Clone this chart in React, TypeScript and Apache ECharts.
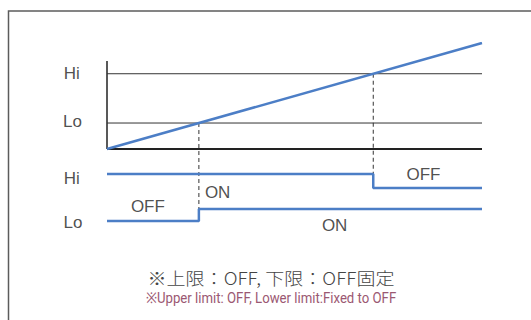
import React, { useEffect, useRef } from "react";
import * as echarts from "echarts";

// ---- data ----
const inputLine: number[][] = [[0, 0], [100, 100]];
const loThreshold = 24.5;
const hiThreshold = 71;
const yAxisTop = 83;
// output step levels (lower panel, same value scale)
const hiOutput: number[][] = [[0, -23.6], [hiThreshold, -36.8], [100, -36.8]];
const loOutput: number[][] = [[0, -67.9], [loThreshold, -56.6], [100, -56.6]];
const hiDropEnd = -23.6;
const loRiseEnd = -56.6;
const stateLabels = [
  { name: "ON", value: [29.5, -40.6] },
  { name: "OFF", value: [10.9, -54.7] },
  { name: "OFF", value: [84.4, -24.5] },
  { name: "ON", value: [60.7, -72.6] },
];
const rowLabels = [
  { name: "Hi", value: [-9.4, 70.8] },
  { name: "Lo", value: [-9.2, 25.5] },
  { name: "Hi", value: [-9.4, -27.4] },
  { name: "Lo", value: [-9.1, -68.9] },
];
const noteJa = "※上限：OFF, 下限：OFF固定";
const noteEn = "※Upper limit: OFF, Lower limit:Fixed to OFF";

const BLUE = "#4c7ec6";
const DARK = "#222";

export default function App() {
  const ref = useRef<HTMLDivElement>(null);
  useEffect(() => {
    document.body.style.margin = "0";
    if (!ref.current) return;
    const chart = echarts.init(ref.current, undefined, { renderer: "svg" });
    const yMin = -80;
    const pxPerUnit = 1.06;
    const plain = (data: number[][], color: string, width: number, type: any = "solid", z = 2) => ({
      type: "line",
      data,
      symbol: "none",
      silent: true,
      z,
      lineStyle: { color, width, type },
    });
    chart.setOption({
      animation: false,
      grid: { left: 107, top: 43, width: 375, height: (100 - yMin) * pxPerUnit },
      xAxis: { type: "value", min: 0, max: 100, show: false },
      yAxis: { type: "value", min: yMin, max: 100, show: false },
      graphic: [
        {
          type: "rect",
          shape: { x: 8.5, y: 11, width: 700, height: 500 },
          style: { fill: "none", stroke: "#5c5c5c", lineWidth: 1.5 },
        },
        {
          type: "text",
          x: 271,
          y: 277,
          scaleX: 1.12,
          style: {
            text: noteJa,
            fill: "#444",
            font: 'normal 300 17px "Noto Sans CJK JP Light", "Noto Sans CJK JP"',
            align: "center",
            verticalAlign: "middle",
          },
        },
        {
          type: "text",
          x: 271,
          y: 298,
          scaleX: 0.88,
          style: {
            text: noteEn,
            fill: "#9b5872",
            font: '15px "Roboto"',
            align: "center",
            verticalAlign: "middle",
          },
        },
      ],
      series: [
        plain([[0, 0], [0, yAxisTop]], DARK, 1.5),
        plain([[0, 0], [100, 0]], DARK, 2),
        plain([[0, hiThreshold], [100, hiThreshold]], "#333", 1),
        plain([[0, loThreshold], [100, loThreshold]], "#333", 1),
        plain([[loThreshold, loThreshold], [loThreshold, loRiseEnd]], "#333", 1, [4, 3]),
        plain([[hiThreshold, hiThreshold], [hiThreshold, hiDropEnd]], "#333", 1, [4, 3]),
        plain(inputLine, BLUE, 2.5, "solid", 5),
        { ...plain(hiOutput, BLUE, 2.5, "solid", 5), step: "end" },
        { ...plain(loOutput, BLUE, 2.5, "solid", 5), step: "end" },
        {
          type: "scatter",
          data: [...stateLabels, ...rowLabels],
          symbolSize: 1,
          clip: false,
          silent: true,
          itemStyle: { color: "transparent" },
          label: {
            show: true,
            position: "inside",
            formatter: "{b}",
            color: DARK,
            fontSize: 17,
            fontFamily: "Liberation Sans",
          },
        },
      ],
    });
    return () => chart.dispose();
  }, []);
  return <div ref={ref} style={{ width: 531, height: 320 }} />;
}
